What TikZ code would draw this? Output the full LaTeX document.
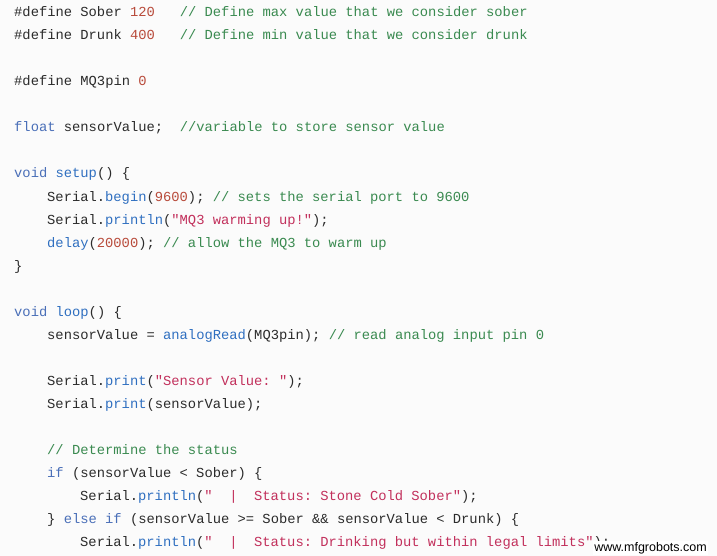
\documentclass[tikz,border=0pt]{standalone}
\usepackage{fontspec}
\setmonofont{Liberation Mono}
\definecolor{bg}{HTML}{FBFBFB}
\definecolor{tx}{HTML}{2B2B2B}
\definecolor{kw}{HTML}{4A6FB8}
\definecolor{fn}{HTML}{2F6FC0}
\definecolor{nm}{HTML}{B84A3A}
\definecolor{st}{HTML}{C2305C}
\definecolor{cm}{HTML}{3A8A50}
\newcommand{\K}[1]{\textcolor{kw}{#1}}
\newcommand{\F}[1]{\textcolor{fn}{#1}}
\newcommand{\N}[1]{\textcolor{nm}{#1}}
\newcommand{\St}[1]{\textcolor{st}{#1}}
\newcommand{\C}[1]{\textcolor{cm}{#1}}
\begin{document}
\begin{tikzpicture}[x=1pt,y=-1pt,
  code/.style={anchor=base west,inner sep=0pt,text=tx,font=\ttfamily\fontsize{13.8}{14}\selectfont}]
\fill[bg] (0,0) rectangle (717,556);
\useasboundingbox (0,0) rectangle (717,556);
\node[code] (l1) at (14,17) {\#define Sober \N{120}~~~\C{// Define max value that we consider sober}};
\node[code] (l2) at (14,40) {\#define Drunk \N{400}~~~\C{// Define min value that we consider drunk}};
\node[code] (l3) at (14,86) {\#define MQ3pin \N{0}};
\node[code] (l4) at (14,132) {\K{float} sensorValue;~~\C{//variable to store sensor value}};
\node[code] (l5) at (14,178) {\K{void} \F{setup}() \{};
\node[code] (l6) at (47,201) {Serial.\F{begin}(\N{9600}); \C{// sets the serial port to 9600}};
\node[code] (l7) at (47,224) {Serial.\F{println}(\St{"MQ3 warming up!"});};
\node[code] (l8) at (47,247) {\F{delay}(\N{20000}); \C{// allow the MQ3 to warm up}};
\node[code] (l9) at (14,270) {\}};
\node[code] (l10) at (14,316) {\K{void} \F{loop}() \{};
\node[code] (l11) at (47,339) {sensorValue = \F{analogRead}(MQ3pin); \C{// read analog input pin 0}};
\node[code] (l12) at (47,385) {Serial.\F{print}(\St{"Sensor Value: "});};
\node[code] (l13) at (47,408) {Serial.\F{print}(sensorValue);};
\node[code] (l14) at (47,454) {\C{// Determine the status}};
\node[code] (l15) at (47,477) {\K{if} (sensorValue < Sober) \{};
\node[code] (l16) at (80,500) {Serial.\F{println}(\St{"~~|~~Status: Stone Cold Sober"});};
\node[code] (l17) at (47,523) {\} \K{else} \K{if} (sensorValue >= Sober \&\& sensorValue < Drunk) \{};
\node[code] (l18) at (80,546) {Serial.\F{println}(\St{"~~|~~Status: Drinking but within legal limits"});};
\node[anchor=base east,inner sep=1pt,fill=white,text=black,font=\fontsize{12.5}{13}\selectfont\setmainfont{Liberation Sans}] (wm) at (708,551) {www.mfgrobots.com};
\end{tikzpicture}
\end{document}
